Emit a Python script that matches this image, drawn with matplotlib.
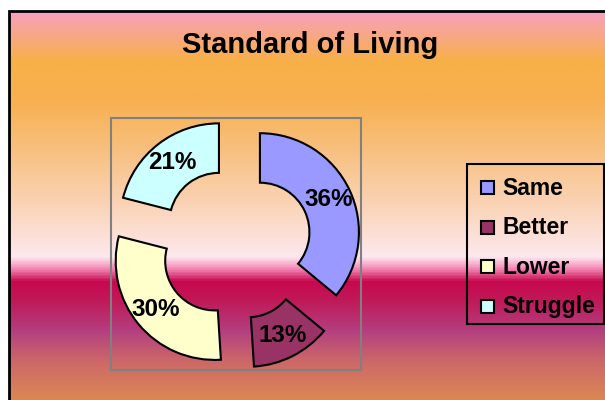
import numpy as np
import matplotlib
matplotlib.use("Agg")
import matplotlib.pyplot as plt
from matplotlib.colors import LinearSegmentedColormap
from matplotlib.patches import Rectangle

title = "Standard of Living"
labels = ["Same", "Better", "Lower", "Struggle"]
shares = [36, 13, 30, 21]
colors = ["#9999FF", "#993366", "#FFFFCC", "#CCFFFF"]

plt.rcParams["font.family"] = ["Liberation Sans", "DejaVu Sans"]

W, H = 605, 400
fig = plt.figure(figsize=(W / 100, H / 100), dpi=100)
fig.patch.set_facecolor("white")
ax = fig.add_axes([0, 0, 1, 1])

# background gradient (screen y from 11 down to 420)
top, bot = 11, 420
stops = [(11, "#F8A0BE"), (60, "#F7B048"), (100, "#F7B050"), (150, "#F8C080"),
         (200, "#FAD2B2"), (257, "#FDE8EE"), (268, "#F590BC"), (282, "#C8084E"),
         (300, "#C01858"), (332, "#B34080"), (362, "#CC6868"), (420, "#E4964A")]
cmap = LinearSegmentedColormap.from_list(
    "bg", [((y - top) / (bot - top), c) for y, c in stops])
grad = np.linspace(0, 1, 400).reshape(-1, 1)
ax.imshow(grad, cmap=cmap, aspect="auto", origin="upper",
          extent=(9, 620, H - bot, H - top), zorder=0)
ax.add_patch(Rectangle((9, H - bot), 611, bot - top, fill=False,
                       edgecolor="black", linewidth=2, zorder=1))

# plot area box
ax.add_patch(Rectangle((111, H - 370), 250, 252, fill=False,
                       edgecolor="#808080", linewidth=1.5, zorder=1))

R = 99
wedges, texts, autotexts = ax.pie(
    shares, colors=colors, startangle=90, counterclock=False,
    radius=R, center=(235.5, H - 243.7), explode=[27] * 4,
    autopct="%1.0f%%", pctdistance=0.77, frame=True,
    wedgeprops=dict(width=0.5 * R, edgecolor="black", linewidth=1.5),
    textprops=dict(fontsize=17.5, fontweight="bold", color="black"))
ax.set_xlim(0, W)
ax.set_ylim(0, H)
ax.set_aspect("auto")
ax.axis("off")

fig.text(310 / W, 1 - 45 / H, title, ha="center", va="center",
         fontsize=21, fontweight="bold")

# legend drawn by hand to match the original layout
ax.add_patch(Rectangle((467, H - 324), 137, 160, fill=False,
                       edgecolor="black", linewidth=1.5, zorder=3))
for i, (w, lab) in enumerate(zip(wedges, labels)):
    yc = H - (187.5 + 39.5 * i)
    ax.add_patch(Rectangle((481, yc - 6.5), 13, 13, facecolor=w.get_facecolor(),
                           edgecolor="black", linewidth=1.5, zorder=3))
    ax.text(502, H - (195 + 39.5 * i), lab, ha="left", va="baseline",
            fontsize=16.5, fontweight="bold", zorder=3)

fig.savefig("out.png", dpi=100)
